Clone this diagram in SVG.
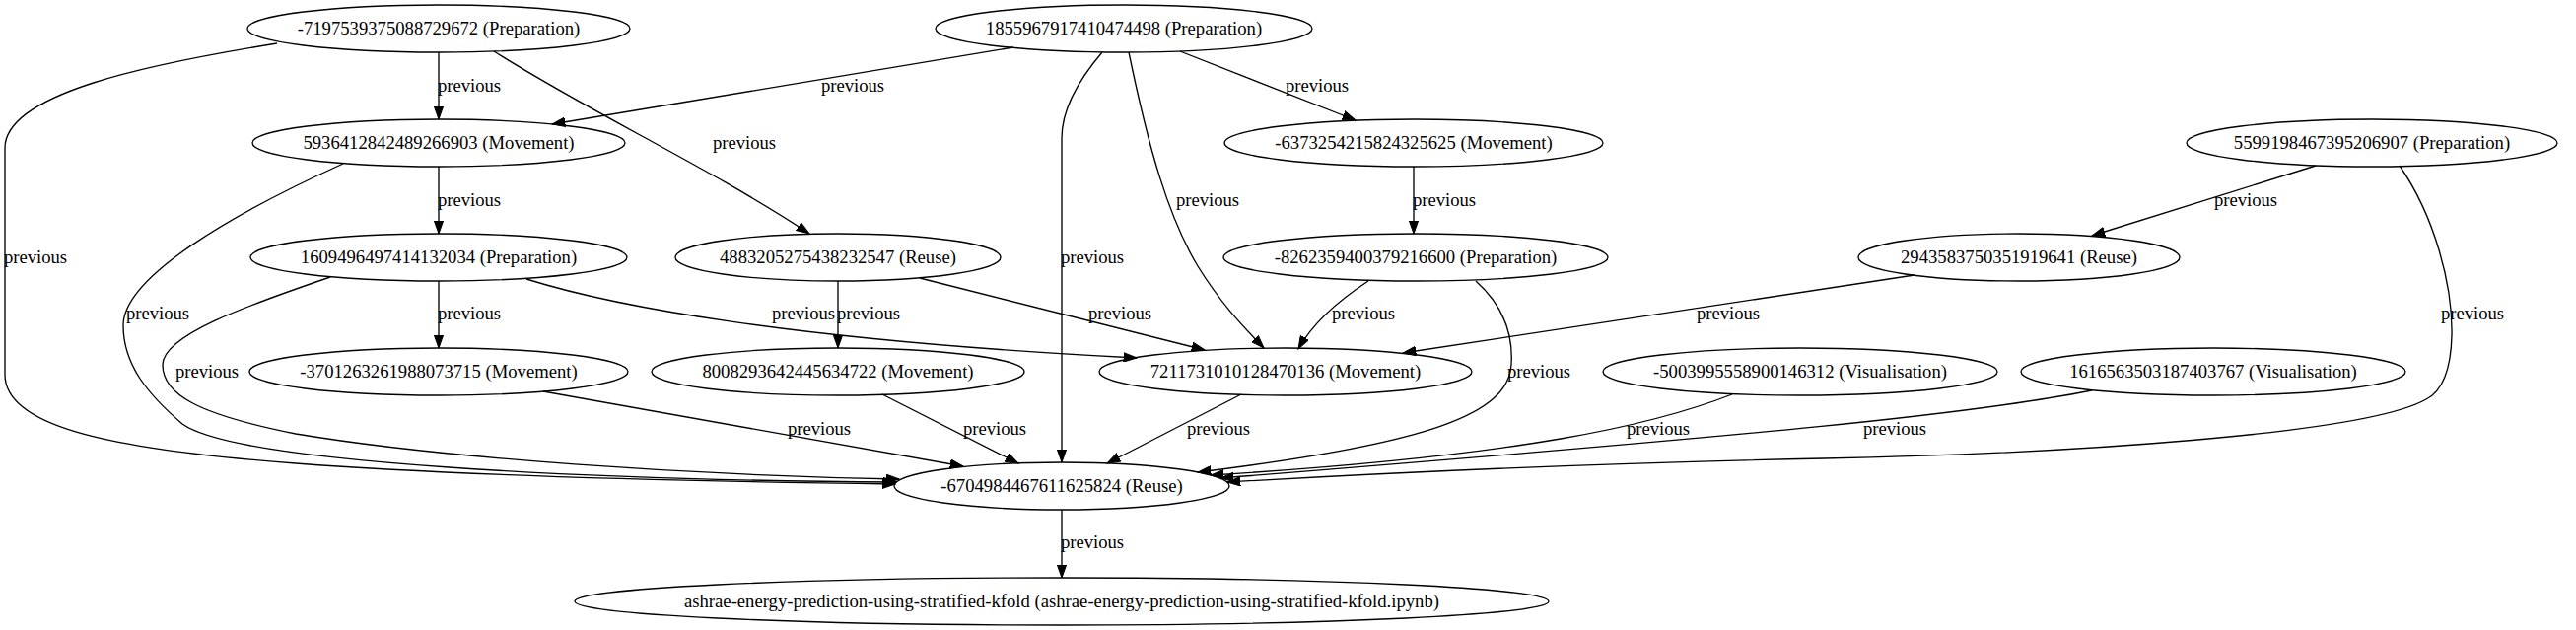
<svg xmlns="http://www.w3.org/2000/svg" width="2613" height="639" viewBox="0 0 2613 639">
<defs>
<style>
.n ellipse{fill:none;stroke:#000;stroke-width:1.33}
text{font-family:"Liberation Serif","Times New Roman",serif;font-size:18.67px;fill:#000}
.n text{text-anchor:middle}
.e path{fill:none;stroke:#000;stroke-width:1.33;marker-end:url(#ah)}
.e text{text-anchor:middle}
</style>
<marker id="ah" markerUnits="userSpaceOnUse" markerWidth="14" markerHeight="10" viewBox="0 0 14 10" refX="13.3" refY="5" orient="auto">
<path d="M0,0.3 L13.3,5 L0,9.7 z" fill="#000" stroke="#000" stroke-width="1"/>
</marker>
</defs>
<rect width="2613" height="639" fill="#fff"/>
<g class="e" id="edges">
<path d="M445,53 L445,121"/><text x="476" y="93">previous</text>
<path d="M1028,48 L560,126"/><text x="865" y="93">previous</text>
<path d="M501,52 C600,115 720,170 821,237"/><text x="755" y="151">previous</text>
<path d="M281,44 C150,65 5,95 5,150 L5,380 C5,430 100,455 300,470 C500,485 750,489 908,491"/><text x="36" y="267">previous</text>
<path d="M1118,53 C1095,80 1077,110 1077,140 L1077,469"/><text x="1108" y="267">previous</text>
<path d="M1145,53 C1165,150 1185,220 1215,270 C1240,310 1260,330 1282,353"/><text x="1225" y="209">previous</text>
<path d="M1197,52 L1375,122"/><text x="1336" y="93">previous</text>
<path d="M445,169 L445,237"/><text x="476" y="209">previous</text>
<path d="M348,166 C240,215 125,280 125,330 C125,370 150,400 185,430 C240,470 600,487 909,489"/><text x="160" y="324">previous</text>
<path d="M1434,169 L1434,237"/><text x="1465" y="209">previous</text>
<path d="M2349,168 L2122,239"/><text x="2278" y="209">previous</text>
<path d="M2434,168 C2470,220 2488,290 2487,340 C2486,380 2475,398 2461,405 C2400,440 2100,460 1850,465 C1600,470 1400,480 1245,489"/><text x="2508" y="324">previous</text>
<path d="M445,285 L445,353"/><text x="476" y="324">previous</text>
<path d="M534,283 C620,310 800,345 1153,363"/><text x="815" y="324">previous</text>
<path d="M335,281 C250,310 165,340 165,370 C165,400 200,420 300,440 C450,465 700,482 912,486"/><text x="210" y="383">previous</text>
<path d="M850,285 L850,353"/><text x="881" y="324">previous</text>
<path d="M933,282 L1222,355"/><text x="1136" y="324">previous</text>
<path d="M1388,285 C1362,302 1333,325 1317,354"/><text x="1383" y="324">previous</text>
<path d="M1497,285 C1525,310 1535,340 1533,370 C1530,420 1450,450 1215,479"/><text x="1561" y="383">previous</text>
<path d="M1942,279 L1423,358"/><text x="1753" y="324">previous</text>
<path d="M551,397 L977,473"/><text x="831" y="441">previous</text>
<path d="M895,400 L1033,470"/><text x="1009" y="441">previous</text>
<path d="M1259,400 L1123,470"/><text x="1236" y="441">previous</text>
<path d="M1757,400 C1680,430 1550,462 1228,482"/><text x="1682" y="441">previous</text>
<path d="M2122,396 C2000,420 1800,440 1238,485"/><text x="1922" y="441">previous</text>
<path d="M1077,517 L1077,586"/><text x="1108" y="556">previous</text>
</g>
<g class="n" id="nA"><ellipse cx="445" cy="29" rx="194" ry="24"/><text x="445" y="35">-7197539375088729672 (Preparation)</text></g>
<g class="n" id="nB"><ellipse cx="1140" cy="29" rx="191" ry="24"/><text x="1140" y="35">1855967917410474498 (Preparation)</text></g>
<g class="n" id="nC"><ellipse cx="445" cy="145" rx="189" ry="24"/><text x="445" y="151">5936412842489266903 (Movement)</text></g>
<g class="n" id="nD"><ellipse cx="1434" cy="145" rx="192" ry="24"/><text x="1434" y="151">-6373254215824325625 (Movement)</text></g>
<g class="n" id="nE"><ellipse cx="2406" cy="145" rx="188" ry="24"/><text x="2406" y="151">5599198467395206907 (Preparation)</text></g>
<g class="n" id="nF"><ellipse cx="445" cy="261" rx="191" ry="24"/><text x="445" y="267">1609496497414132034 (Preparation)</text></g>
<g class="n" id="nG"><ellipse cx="850" cy="261" rx="165" ry="24"/><text x="850" y="267">4883205275438232547 (Reuse)</text></g>
<g class="n" id="nH"><ellipse cx="1436" cy="261" rx="195" ry="24"/><text x="1436" y="267">-8262359400379216600 (Preparation)</text></g>
<g class="n" id="nI"><ellipse cx="2048" cy="261" rx="163" ry="24"/><text x="2048" y="267">2943583750351919641 (Reuse)</text></g>
<g class="n" id="nJ"><ellipse cx="445" cy="377" rx="192" ry="24"/><text x="445" y="383">-3701263261988073715 (Movement)</text></g>
<g class="n" id="nK"><ellipse cx="850" cy="377" rx="189" ry="24"/><text x="850" y="383">8008293642445634722 (Movement)</text></g>
<g class="n" id="nL"><ellipse cx="1304" cy="377" rx="189" ry="24"/><text x="1304" y="383">7211731010128470136 (Movement)</text></g>
<g class="n" id="nM"><ellipse cx="1826" cy="377" rx="200" ry="24"/><text x="1826" y="383">-5003995558900146312 (Visualisation)</text></g>
<g class="n" id="nN"><ellipse cx="2245" cy="377" rx="195" ry="24"/><text x="2245" y="383">1616563503187403767 (Visualisation)</text></g>
<g class="n" id="nO"><ellipse cx="1077" cy="493" rx="170" ry="24"/><text x="1077" y="499">-6704984467611625824 (Reuse)</text></g>
<g class="n" id="nP"><ellipse cx="1077" cy="610" rx="494" ry="24"/><text x="1077" y="616">ashrae-energy-prediction-using-stratified-kfold (ashrae-energy-prediction-using-stratified-kfold.ipynb)</text></g>
</svg>
